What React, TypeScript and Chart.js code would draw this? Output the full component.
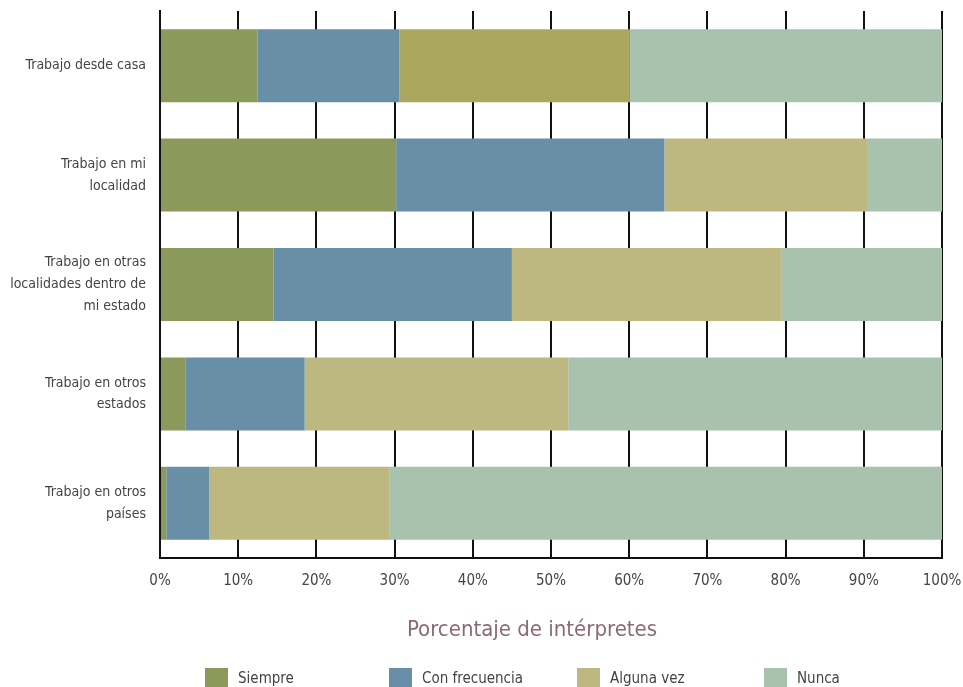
import React, { useEffect, useRef } from "react";
import { Chart, registerables } from "chart.js";

Chart.register(...registerables);

const categories: string[][] = [
  ["Trabajo desde casa"],
  ["Trabajo en mi", "localidad"],
  ["Trabajo en otras", "localidades dentro de", "mi estado"],
  ["Trabajo en otros", "estados"],
  ["Trabajo en otros", "países"],
];

const seriesNames = ["Siempre", "Con frecuencia", "Alguna vez", "Nunca"];
const siempre = [12.5, 30.2, 14.5, 3.3, 0.8];
const conFrecuencia = [18.1, 34.3, 30.5, 15.2, 5.5];
const algunaVez = [29.4, 25.9, 34.4, 33.7, 23.0];
const nunca = [40.0, 9.6, 20.6, 47.8, 70.7];

const axisTitle = "Porcentaje de intérpretes";

const FONT = "'Liberation Sans Narrow', 'DejaVu Sans Condensed', 'Roboto', sans-serif";
const colors = ["#8b9a5a", "#698fa6", "#bdb880", "#a8c2ae"];
const algunaVezColors = ["#aba75f", "#bdb880", "#bdb880", "#bdb880", "#bdb880"];

const extrasPlugin = {
  id: "extras",
  afterDraw(chart: any) {
    const ctx = chart.ctx;
    ctx.save();
    ctx.fillStyle = "#8a6c70";
    ctx.font = `22px ${FONT}`;
    ctx.textAlign = "center";
    ctx.textBaseline = "middle";
    ctx.fillText(axisTitle, 532, 630);
    const xs = [205, 389, 577, 764];
    ctx.font = `15px ${FONT}`;
    ctx.textAlign = "left";
    chart.data.datasets.forEach((ds: any, i: number) => {
      ctx.fillStyle = colors[i];
      ctx.fillRect(xs[i], 668, 23, 22);
      ctx.fillStyle = "#444";
      ctx.fillText(ds.label, xs[i] + 33, 679);
    });
    ctx.restore();
  },
};

export default function App() {
  const ref = useRef<HTMLCanvasElement>(null);
  useEffect(() => {
    if (!ref.current) return;
    const chart = new Chart(ref.current, {
      type: "bar",
      data: {
        labels: categories as any,
        datasets: [
          { label: seriesNames[0], data: siempre, backgroundColor: colors[0] },
          { label: seriesNames[1], data: conFrecuencia, backgroundColor: colors[1] },
          { label: seriesNames[2], data: algunaVez, backgroundColor: algunaVezColors },
          { label: seriesNames[3], data: nunca, backgroundColor: colors[3] },
        ],
      },
      options: {
        indexAxis: "y",
        animation: false,
        responsive: false,
        maintainAspectRatio: false,
        layout: { padding: { left: 0, top: 11, right: 21, bottom: 0 } },
        datasets: { bar: { barPercentage: 0.667, categoryPercentage: 1.0, borderWidth: 0 } },
        plugins: {
          legend: { display: false },
          tooltip: { enabled: false },
          title: { display: false },
        },
        scales: {
          x: {
            stacked: true,
            min: 0,
            max: 100,
            afterFit: (s: any) => {
              s.height = 129;
              s.paddingLeft = 0;
              s.paddingRight = 0;
            },
            grid: { color: "#111", lineWidth: 2, drawTicks: false },
            border: { color: "#111", width: 2 },
            ticks: {
              stepSize: 10,
              padding: 14,
              color: "#444",
              font: { family: FONT, size: 15 },
              callback: (v: any) => `${v}%`,
            },
          },
          y: {
            stacked: true,
            afterFit: (s: any) => {
              s.width = 160;
              s.paddingTop = 0;
              s.paddingBottom = 0;
            },
            grid: { display: false, drawTicks: false },
            border: { color: "#111", width: 2 },
            ticks: {
              padding: 14,
              color: "#444",
              font: { family: FONT, size: 14, lineHeight: 1.55 },
            },
          },
        },
      },
      plugins: [extrasPlugin],
    });
    return () => chart.destroy();
  }, []);
  return (
    <div style={{ position: "fixed", left: 0, top: 0, width: 963, height: 687, background: "#fff" }}>
      <canvas ref={ref} width={963} height={687} style={{ width: 963, height: 687 }} />
    </div>
  );
}
